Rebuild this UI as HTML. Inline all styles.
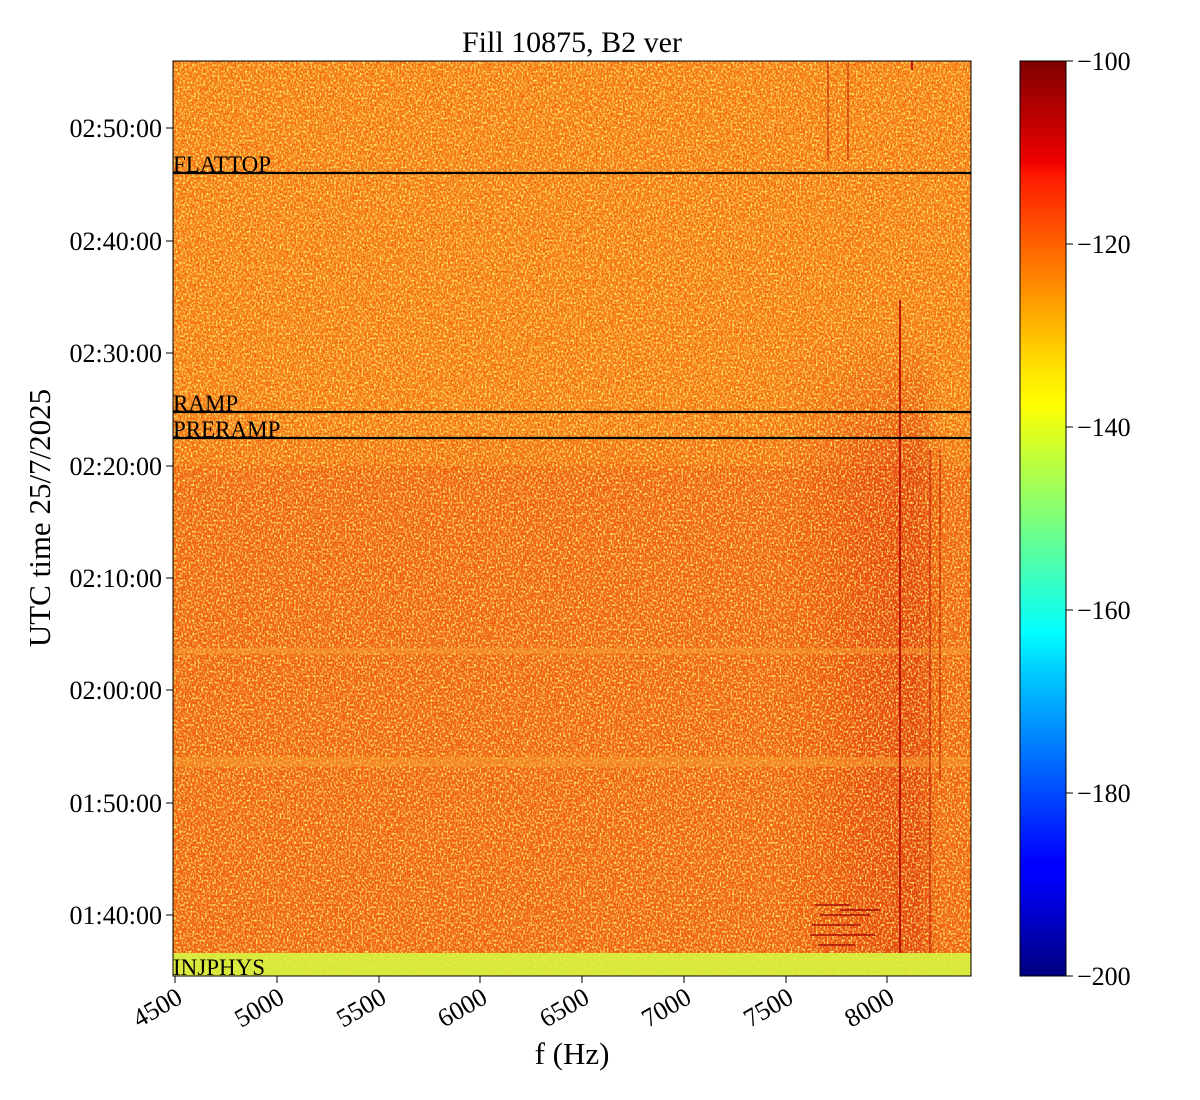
<!DOCTYPE html>
<html><head><meta charset="utf-8"><style>
html,body{margin:0;padding:0;background:#fff;}
svg{display:block;font-family:"Liberation Serif",serif;}
</style></head><body>
<svg width="1200" height="1100" viewBox="0 0 1200 1100" xmlns="http://www.w3.org/2000/svg">
<defs>
<filter id="nz" x="0" y="0" width="100%" height="100%">
<feTurbulence type="fractalNoise" baseFrequency="0.55 0.45" numOctaves="1" seed="3" result="t"/>
<feColorMatrix in="t" type="matrix" values="0 0 0 0 1  0 0 0 0 0.88  0 0 0 0 0.15  3.2 0 0 0 -1.45"/>
</filter>
<filter id="nz2" x="0" y="0" width="100%" height="100%">
<feTurbulence type="fractalNoise" baseFrequency="0.6 0.5" numOctaves="1" seed="9" result="t"/>
<feColorMatrix in="t" type="matrix" values="0 0 0 0 0.9  0 0 0 0 0.08  0 0 0 0 0  3.2 0 0 0 -1.45"/>
</filter>
<linearGradient id="jet" x1="0" y1="1" x2="0" y2="0">
<stop offset="0" stop-color="#00007f"/>
<stop offset="0.11" stop-color="#0000ff"/>
<stop offset="0.125" stop-color="#0000ff"/>
<stop offset="0.34" stop-color="#00d4ff"/>
<stop offset="0.375" stop-color="#00ffff"/>
<stop offset="0.5" stop-color="#7dff7a"/>
<stop offset="0.625" stop-color="#ffff00"/>
<stop offset="0.66" stop-color="#ffe600"/>
<stop offset="0.875" stop-color="#ff1a00"/>
<stop offset="0.89" stop-color="#ee0000"/>
<stop offset="1" stop-color="#7f0000"/>
</linearGradient>
<linearGradient id="rband" x1="0" y1="0" x2="1" y2="0">
<stop offset="0" stop-color="#e03010" stop-opacity="0"/>
<stop offset="0.5" stop-color="#d82510" stop-opacity="0.4"/>
<stop offset="0.85" stop-color="#d02010" stop-opacity="0.55"/>
<stop offset="1" stop-color="#d02010" stop-opacity="0"/>
</linearGradient>
<linearGradient id="vfade" x1="0" y1="0" x2="0" y2="1">
<stop offset="0" stop-color="#fff" stop-opacity="0"/>
<stop offset="0.2" stop-color="#fff" stop-opacity="1"/>
<stop offset="1" stop-color="#fff" stop-opacity="1"/>
</linearGradient>
<mask id="vm"><rect x="780" y="330" width="160" height="623" fill="url(#vfade)"/></mask>
</defs>
<!-- heatmap -->
<rect x="173" y="61" width="798" height="915" fill="#f5841c"/>
<rect x="173" y="466" width="798" height="487" fill="#ee6818"/>
<rect x="173" y="440" width="798" height="26" fill="#f27a1c"/>
<rect x="780" y="330" width="160" height="623" fill="url(#rband)" mask="url(#vm)"/>
<rect x="173" y="61" width="798" height="892" filter="url(#nz2)"/>
<rect x="173" y="61" width="798" height="892" filter="url(#nz)"/>
<rect x="173" y="648" width="798" height="6" fill="#f5a030" opacity="0.5"/>
<rect x="173" y="757" width="798" height="10" fill="#f5a030" opacity="0.5"/>
<rect x="173" y="953" width="798" height="23" fill="#d6e83a"/>
<rect x="173" y="953" width="798" height="23" filter="url(#nz)" opacity="0.4"/>
<g stroke="#b00000" stroke-width="2" opacity="0.8">
<line x1="900" y1="300" x2="900" y2="953"/>
<line x1="930" y1="450" x2="930" y2="953" opacity="0.5"/>
<line x1="940" y1="450" x2="940" y2="780" opacity="0.5"/>
<line x1="828" y1="61" x2="828" y2="160" opacity="0.5"/>
<line x1="848" y1="61" x2="848" y2="160" opacity="0.5"/>
<line x1="912" y1="61" x2="912" y2="70"/>
</g>
<g stroke="#a00808" stroke-width="2" opacity="0.7">
<line x1="815" y1="905" x2="850" y2="905"/><line x1="820" y1="915" x2="870" y2="915"/>
<line x1="812" y1="925" x2="860" y2="925"/><line x1="810" y1="935" x2="875" y2="935"/>
<line x1="818" y1="945" x2="855" y2="945"/><line x1="840" y1="910" x2="880" y2="910"/>
</g>
<!-- event lines -->
<g stroke="#000" stroke-width="2.2">
<line x1="173" y1="173" x2="971" y2="173"/>
<line x1="173" y1="412" x2="971" y2="412"/>
<line x1="173" y1="438" x2="971" y2="438"/>
</g>
<g font-size="23" fill="#000">
<text x="173" y="172">FLATTOP</text>
<text x="173" y="411">RAMP</text>
<text x="173" y="437">PRERAMP</text>
<text x="173" y="975">INJPHYS</text>
</g>
<rect x="173" y="61" width="798" height="915" fill="none" stroke="#000" stroke-width="1"/>
<!-- y ticks -->
<g stroke="#000" stroke-width="1">
<line x1="166" y1="128" x2="173" y2="128"/><line x1="166" y1="241" x2="173" y2="241"/>
<line x1="166" y1="353" x2="173" y2="353"/><line x1="166" y1="466" x2="173" y2="466"/>
<line x1="166" y1="578" x2="173" y2="578"/><line x1="166" y1="690" x2="173" y2="690"/>
<line x1="166" y1="803" x2="173" y2="803"/><line x1="166" y1="915" x2="173" y2="915"/>
</g>
<g font-size="26" text-anchor="end" fill="#000">
<text x="162" y="137">02:50:00</text><text x="162" y="250">02:40:00</text>
<text x="162" y="362">02:30:00</text><text x="162" y="475">02:20:00</text>
<text x="162" y="587">02:10:00</text><text x="162" y="699">02:00:00</text>
<text x="162" y="812">01:50:00</text><text x="162" y="924">01:40:00</text>
</g>
<!-- x ticks -->
<g stroke="#000" stroke-width="1">
<line x1="175" y1="976" x2="175" y2="983"/><line x1="277" y1="976" x2="277" y2="983"/>
<line x1="379" y1="976" x2="379" y2="983"/><line x1="480" y1="976" x2="480" y2="983"/>
<line x1="582" y1="976" x2="582" y2="983"/><line x1="684" y1="976" x2="684" y2="983"/>
<line x1="786" y1="976" x2="786" y2="983"/><line x1="887" y1="976" x2="887" y2="983"/>
</g>
<g font-size="26" text-anchor="end" fill="#000">
<text transform="translate(184,1002) rotate(-30)">4500</text>
<text transform="translate(286,1002) rotate(-30)">5000</text>
<text transform="translate(388,1002) rotate(-30)">5500</text>
<text transform="translate(489,1002) rotate(-30)">6000</text>
<text transform="translate(591,1002) rotate(-30)">6500</text>
<text transform="translate(693,1002) rotate(-30)">7000</text>
<text transform="translate(795,1002) rotate(-30)">7500</text>
<text transform="translate(896,1002) rotate(-30)">8000</text>
</g>
<text x="572" y="1064" font-size="31" text-anchor="middle">f (Hz)</text>
<text transform="translate(50,518) rotate(-90)" font-size="31" text-anchor="middle">UTC time 25/7/2025</text>
<text x="572" y="52" font-size="30" text-anchor="middle">Fill 10875, B2 ver</text>
<!-- colorbar -->
<rect x="1020" y="61" width="46" height="915" fill="url(#jet)" stroke="#000" stroke-width="1"/>
<g stroke="#000" stroke-width="1">
<line x1="1066" y1="61" x2="1073" y2="61"/><line x1="1066" y1="244" x2="1073" y2="244"/>
<line x1="1066" y1="427" x2="1073" y2="427"/><line x1="1066" y1="610" x2="1073" y2="610"/>
<line x1="1066" y1="793" x2="1073" y2="793"/><line x1="1066" y1="976" x2="1073" y2="976"/>
</g>
<g font-size="26" fill="#000">
<text x="1077" y="70">−100</text><text x="1077" y="253">−120</text>
<text x="1077" y="436">−140</text><text x="1077" y="619">−160</text>
<text x="1077" y="802">−180</text><text x="1077" y="985">−200</text>
</g>
</svg>
</body></html>
